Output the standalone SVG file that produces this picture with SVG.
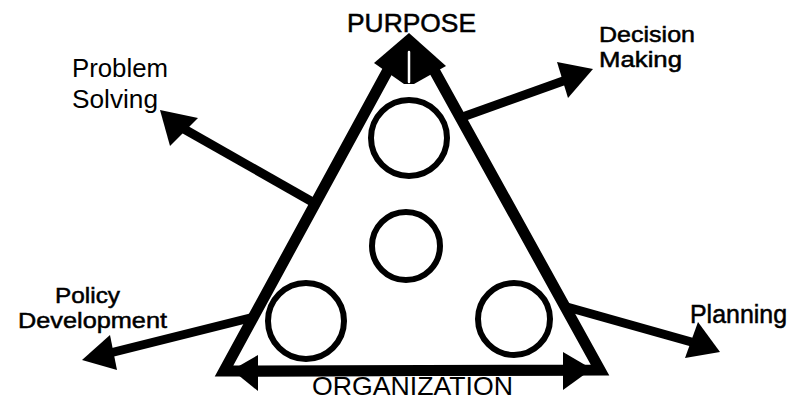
<svg xmlns="http://www.w3.org/2000/svg" width="795" height="402" viewBox="0 0 795 402">
<style>
.edge{fill:none;stroke:#000;stroke-width:11;stroke-linejoin:miter;stroke-miterlimit:10}
.ring{fill:none;stroke:#000;stroke-width:6}
.shaft{stroke:#000;stroke-width:9;fill:none}
.head{fill:#000;stroke:none}
.lbl{font-family:"Liberation Sans",Arial,sans-serif;font-size:25px;fill:#000}
.sm{font-size:22px}
.bold{stroke:#000;stroke-width:0.5}
</style>
<rect width="795" height="402" fill="#fff"/>
<g id="triangle">
<path class="edge" d="M388,70 L224,371 L600,370 L434,70"/>
</g>
<g id="circles">
<circle id="circle-top" class="ring" cx="409" cy="138" r="38"/>
<circle id="circle-middle" class="ring" cx="406" cy="246" r="34"/>
<circle id="circle-left" class="ring" cx="306" cy="321" r="38"/>
<circle id="circle-right" class="ring" cx="514" cy="319" r="36"/>
</g>
<g id="connectors">
<polygon class="head" points="409,33 446,66 414,84 404,84 374,63"/>
<line x1="409" y1="52" x2="409" y2="82" stroke="#fff" stroke-width="2.5" stroke-linecap="round"/>
<line class="shaft" x1="316" y1="204" x2="184" y2="129"/>
<polygon class="head" points="160,110 198,118 170,146"/>
<line class="shaft" x1="457" y1="119" x2="566" y2="80"/>
<polygon class="head" points="593,69 557,62 568,98"/>
<line class="shaft" x1="254" y1="317" x2="110" y2="353"/>
<polygon class="head" points="82,360 110,335 117,370"/>
<line class="shaft" x1="567" y1="307" x2="695" y2="343"/>
<polygon class="head" points="720,352 698,322 685,358"/>
<line class="shaft" x1="250" y1="372" x2="575" y2="371"/>
<polygon class="head" points="232,370 258,355 258,391"/>
<polygon class="head" points="592,369 563,352 563,390"/>
</g>
<g id="label-purpose"><text class="lbl bold" x="347" y="32" textLength="129" lengthAdjust="spacingAndGlyphs">PURPOSE</text></g>
<g id="label-problem-solving">
<text class="lbl" x="72" y="77" textLength="96" lengthAdjust="spacingAndGlyphs">Problem</text>
<text class="lbl" x="72" y="108" textLength="86" lengthAdjust="spacingAndGlyphs">Solving</text>
</g>
<g id="label-decision-making">
<text class="lbl sm bold" x="599" y="42" textLength="96" lengthAdjust="spacingAndGlyphs">Decision</text>
<text class="lbl sm bold" x="599" y="67" textLength="83" lengthAdjust="spacingAndGlyphs">Making</text>
</g>
<g id="label-policy-development">
<text class="lbl sm bold" x="55" y="303" textLength="65" lengthAdjust="spacingAndGlyphs">Policy</text>
<text class="lbl sm bold" x="18" y="328" textLength="149" lengthAdjust="spacingAndGlyphs">Development</text>
</g>
<g id="label-planning"><text class="lbl bold" x="690" y="323" textLength="97" lengthAdjust="spacingAndGlyphs">Planning</text></g>
<g id="label-organization"><text class="lbl" x="312" y="395" textLength="201" lengthAdjust="spacingAndGlyphs">ORGANIZATION</text></g>
</svg>
